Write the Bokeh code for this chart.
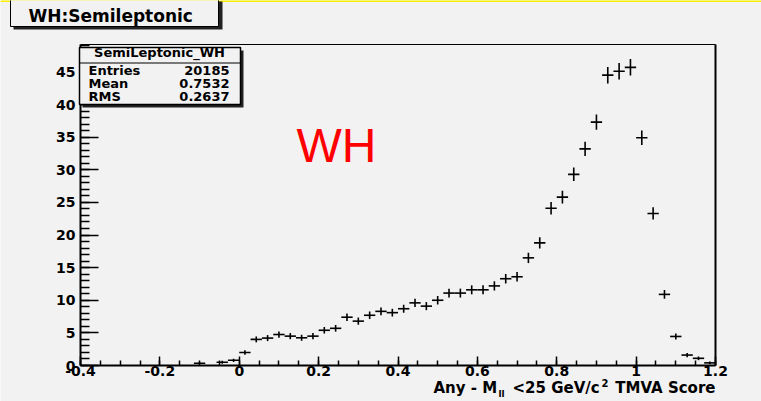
from bokeh.plotting import figure
from bokeh.models import Range1d, FixedTicker, Label, ColumnDataSource, LinearAxis
from bokeh.embed import file_html
from bokeh.resources import INLINE

# ---------------- data ----------------
n_bins = 56
x_lo, x_hi = -0.4, 1.2
y_lo, y_hi = 0.0, 49.2

counts = [0, 0, 0, 0, 0, 0, 0, 0, 0, 0,
          0.35, 0, 0.5, 0.8, 2.0, 4.0, 4.2, 4.75, 4.5, 4.25,
          4.5, 5.4, 5.7, 7.4, 6.8, 7.7, 8.3, 8.1, 8.7, 9.6,
          9.1, 10.0, 11.1, 11.1, 11.6, 11.6, 12.2, 13.3, 13.6, 16.5,
          18.8, 24.1, 25.8, 29.3, 33.2, 37.3, 44.5, 45.1, 45.7, 34.9,
          23.3, 10.9, 4.45, 1.6, 1.1, 0.4]
errors = [0, 0, 0, 0, 0, 0, 0, 0, 0, 0,
          0.20, 0, 0.22, 0.25, 0.35, 0.45, 0.46, 0.48, 0.47, 0.46,
          0.47, 0.50, 0.51, 0.57, 0.55, 0.58, 0.60, 0.59, 0.61, 0.64,
          0.62, 0.65, 0.68, 0.68, 0.69, 0.69, 0.71, 0.73, 0.74, 0.80,
          0.85, 0.95, 0.98, 1.04, 1.10, 1.16, 1.26, 1.26, 1.27, 1.12,
          0.94, 0.67, 0.47, 0.32, 0.28, 0.21]

x_tick_values = [-0.4, -0.2, 0.0, 0.2, 0.4, 0.6, 0.8, 1.0, 1.2]
x_tick_labels = ["-0.4", "-0.2", "0", "0.2", "0.4", "0.6", "0.8", "1", "1.2"]
y_tick_values = [0, 5, 10, 15, 20, 25, 30, 35, 40, 45]
y_tick_labels = ["0", "5", "10", "15", "20", "25", "30", "35", "40", "45"]

hist_title = "WH:Semileptonic"
stats_name = "SemiLeptonic_WH"
stats_rows = [("Entries", "20185"), ("Mean", "0.7532"), ("RMS", "0.2637")]
x_title_parts = ["Any - M", "ll", "<25 GeV/c", "2", "TMVA Score"]
big_label = "WH"

# ---------------- layout helpers (pixel -> data) ----------------
W, H = 761, 401
FL, FR, FT, FB = 80, 715, 44, 365
def dx(px):
    return x_lo + (px - FL) / (FR - FL) * (x_hi - x_lo)
def dy(py):
    return y_lo + (FB - py) / (FB - FT) * (y_hi - y_lo)

BG = "#f2f2f2"
FONT = "DejaVu Sans"

p = figure(width=W, height=H, x_range=Range1d(dx(0), dx(W)), y_range=Range1d(dy(H), dy(0)),
           x_axis_location=None, y_axis_location=None,
           output_backend="svg", toolbar_location=None, min_border=0,
           background_fill_color=BG, border_fill_color=BG)
p.grid.visible = False
p.outline_line_color = None

def text_at(px, base_px, text, size, align="left", font=FONT, style="bold", color="black"):
    # Label baseline lands ~0.4 em low in this renderer; compensate
    p.add_layout(Label(x=dx(px), y=dy(base_px - 0.4 * size), text=text, text_font=font,
                       text_font_size=f"{size}px", text_font_style=style, text_color=color,
                       text_align=align, text_baseline="alphabetic"))

# axes (Bokeh axes fixed at the frame edges of the histogram)
bw = (x_hi - x_lo) / n_bins
x_minor = [x_lo + k * 0.05 for k in range(33)]
y_minor = list(range(0, 50))
xa = LinearAxis(fixed_location=y_lo, bounds=(x_lo, x_hi),
                ticker=FixedTicker(ticks=x_tick_values, minor_ticks=x_minor),
                major_label_overrides=dict(zip(x_tick_values, x_tick_labels)))
ya = LinearAxis(fixed_location=x_lo, bounds=(y_lo, y_hi),
                ticker=FixedTicker(ticks=y_tick_values, minor_ticks=y_minor),
                major_label_overrides=dict(zip(y_tick_values, y_tick_labels)))
for ax in (xa, ya):
    ax.axis_line_width = 2
    ax.axis_line_color = "black"
    ax.major_tick_out = 0
    ax.minor_tick_out = 0
    ax.major_tick_line_width = 1.5
    ax.minor_tick_line_width = 1.5
    ax.major_label_text_font = FONT
    ax.major_label_text_font_size = "14px"
    ax.major_label_text_font_style = "bold"
    ax.major_label_text_color = "black"
    ax.level = "underlay"
xa.major_tick_in = 9
xa.minor_tick_in = 5
xa.major_label_standoff = 0
ya.major_tick_in = 18
ya.minor_tick_in = 9
ya.major_label_standoff = 5
p.add_layout(xa, "below")
p.add_layout(ya, "left")

# frame top and right edges
p.segment(x0=[x_lo], y0=[y_hi], x1=[x_hi], y1=[y_hi], line_color="black", line_width=1)
p.segment(x0=[x_hi], y0=[y_lo], x1=[x_hi], y1=[y_hi], line_color="black", line_width=2)

# data points with error bars
xs, ys, ex0, ex1, ey0, ey1 = [], [], [], [], [], []
for i, (c, e) in enumerate(zip(counts, errors)):
    if c <= 0:
        continue
    xc = x_lo + (i + 0.5) * bw
    xs.append(xc); ys.append(c)
    ex0.append(xc - bw / 2); ex1.append(xc + bw / 2)
    ey0.append(c - e); ey1.append(c + e)
src = ColumnDataSource(dict(x=xs, y=ys, x0=ex0, x1=ex1, y0=ey0, y1=ey1))
p.segment(x0="x0", y0="y", x1="x1", y1="y", source=src, line_color="black", line_width=1.6)
p.segment(x0="x", y0="y0", x1="x", y1="y1", source=src, line_color="black", line_width=1.6)

# yellow strip at very top
p.quad(left=[dx(0)], right=[dx(W)], top=[dy(-1)], bottom=[dy(1.5)],
       fill_color="#f7ef00", line_color=None)

# title box with shadow
p.quad(left=[dx(13)], right=[dx(222)], top=[dy(1)], bottom=[dy(29)],
       fill_color="#222222", line_color=None)
p.quad(left=[dx(10)], right=[dx(218)], top=[dy(-3)], bottom=[dy(26)],
       fill_color=BG, line_color="black", line_width=1)
text_at(28, 22, hist_title, 17)

# stats box with shadow
p.quad(left=[dx(82)], right=[dx(243)], top=[dy(50)], bottom=[dy(107)],
       fill_color="#222222", line_color=None)
p.quad(left=[dx(79)], right=[dx(240)], top=[dy(47)], bottom=[dy(104)],
       fill_color=BG, line_color="black", line_width=1.5)
p.segment(x0=[dx(79)], y0=[dy(62.5)], x1=[dx(240)], y1=[dy(62.5)], line_color="black", line_width=1)
text_at(159, 57.5, stats_name, 13, align="center")
for (name, val), base in zip(stats_rows, [75, 88, 101]):
    text_at(88, base, name, 13)
    text_at(229, base, val, 13, align="right")

# big red label
text_at(296, 164, big_label, 48, font="Liberation Sans", style="normal", color="#ff0000")

# x-axis title pieces
base_y = 393
text_at(433, base_y, x_title_parts[0], 15)
text_at(498, base_y + 4, x_title_parts[1], 9)
text_at(512, base_y, x_title_parts[2], 15)
text_at(601, base_y - 7, x_title_parts[3], 10)
text_at(715, base_y, x_title_parts[4], 15, align="right")

open("out.html", "w").write(file_html(p, INLINE))
